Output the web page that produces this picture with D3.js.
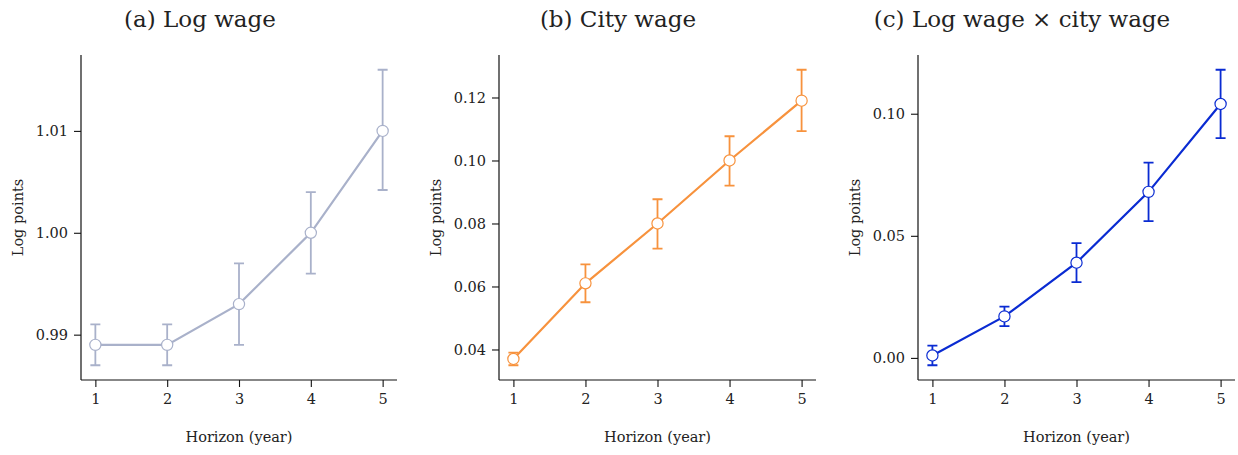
<!DOCTYPE html>
<html><head><meta charset="utf-8">
<script src="https://cdn.jsdelivr.net/npm/d3@7"></script>
<style>
html,body{margin:0;padding:0;background:#fff;}
svg{display:block;}
text{font-family:"DejaVu Serif",serif;fill:#222;}
</style></head>
<body><svg id="chart" width="1238" height="455"></svg>
<script>
const horizons = [1, 2, 3, 4, 5];
const titles = ["(a) Log wage", "(b) City wage", "(c) Log wage \u00d7 city wage"];
const logWage = [0.989, 0.989, 0.993, 1.000, 1.010];
const logWageLo = [0.987, 0.987, 0.989, 0.996, 1.0042];
const logWageHi = [0.991, 0.991, 0.997, 1.004, 1.016];
const cityWage = [0.037, 0.061, 0.080, 0.100, 0.119];
const cityWageLo = [0.035, 0.055, 0.072, 0.092, 0.1093];
const cityWageHi = [0.039, 0.067, 0.0877, 0.1077, 0.1288];
const inter = [0.001, 0.017, 0.039, 0.068, 0.104];
const interLo = [-0.003, 0.013, 0.031, 0.056, 0.090];
const interHi = [0.005, 0.021, 0.047, 0.080, 0.118];
const ticksA = [0.99, 1.00, 1.01];
const ticksB = [0.04, 0.06, 0.08, 0.10, 0.12];
const ticksC = [0.00, 0.05, 0.10];
const xLabel = "Horizon (year)";
const yLabel = "Log points";

const panels = [
  {title: titles[0], v: logWage, lo: logWageLo, hi: logWageHi, ticks: ticksA, color: "#a9b1ca", x0: 81, x1: 397, tx: 200},
  {title: titles[1], v: cityWage, lo: cityWageLo, hi: cityWageHi, ticks: ticksB, color: "#f7923d", x0: 499, x1: 816, tx: 618},
  {title: titles[2], v: inter, lo: interLo, hi: interHi, ticks: ticksC, color: "#0a2bd2", x0: 918, x1: 1235, tx: 1022}
];
const yTop = 55, yBot = 380;
const fs = 14.5;
const svg = d3.select("#chart");

panels.forEach(p => {
  const g = svg.append("g");
  const x = d3.scaleLinear().domain([0.8, 5.2]).range([p.x0, p.x1]);
  const mn = d3.min(p.lo), mx = d3.max(p.hi), pad = (mx - mn) * 0.05;
  const y = d3.scaleLinear().domain([mn - pad, mx + pad]).range([yBot, yTop]);

  const xa = g.append("g").attr("transform", `translate(0,${yBot})`)
    .call(d3.axisBottom(x).tickValues(horizons).tickFormat(d3.format("d")).tickSize(7).tickPadding(7).tickSizeOuter(0));
  const ya = g.append("g").attr("transform", `translate(${p.x0},0)`)
    .call(d3.axisLeft(y).tickValues(p.ticks).tickFormat(d3.format(".2f")).tickSize(7).tickPadding(6).tickSizeOuter(0));
  [xa, ya].forEach(a => {
    a.select(".domain").attr("stroke", "#111").attr("stroke-width", 1.2);
    a.selectAll(".tick line").attr("stroke", "#111").attr("stroke-width", 1.1);
    a.selectAll("text").attr("font-size", fs).style("font-family", "DejaVu Serif").attr("fill", "#222");
  });
  xa.select(".domain").attr("d", `M${p.x0},0H${p.x1}`);
  ya.select(".domain").attr("d", `M0,${yBot}V${yTop}`);

  const data = horizons.map((h, i) => ({h, v: p.v[i], lo: p.lo[i], hi: p.hi[i]}));
  const eb = g.append("g").attr("stroke", p.color).attr("stroke-width", 1.8).attr("fill", "none");
  eb.selectAll("path").data(data).enter().append("path")
    .attr("d", d => `M${x(d.h)},${y(d.lo)}V${y(d.hi)}M${x(d.h)-5},${y(d.lo)}H${x(d.h)+5}M${x(d.h)-5},${y(d.hi)}H${x(d.h)+5}`);
  g.append("path").datum(data)
    .attr("d", d3.line().x(d => x(d.h)).y(d => y(d.v)))
    .attr("fill", "none").attr("stroke", p.color).attr("stroke-width", 2.2);
  g.selectAll("circle").data(data).enter().append("circle")
    .attr("cx", d => x(d.h)).attr("cy", d => y(d.v)).attr("r", 5.6)
    .attr("fill", "#fff").attr("stroke", p.color).attr("stroke-width", 1.2);

  g.append("text").attr("x", (p.x0 + p.x1) / 2).attr("y", 442).attr("text-anchor", "middle")
    .attr("font-size", fs).text(xLabel);
  g.append("text").attr("transform", `translate(${p.x0 - 58},${(yTop + yBot) / 2}) rotate(-90)`)
    .attr("text-anchor", "middle").attr("font-size", fs).text(yLabel);
  g.append("text").attr("x", p.tx).attr("y", 27).attr("text-anchor", "middle")
    .attr("font-size", 23).text(p.title);
});
</script></body></html>
